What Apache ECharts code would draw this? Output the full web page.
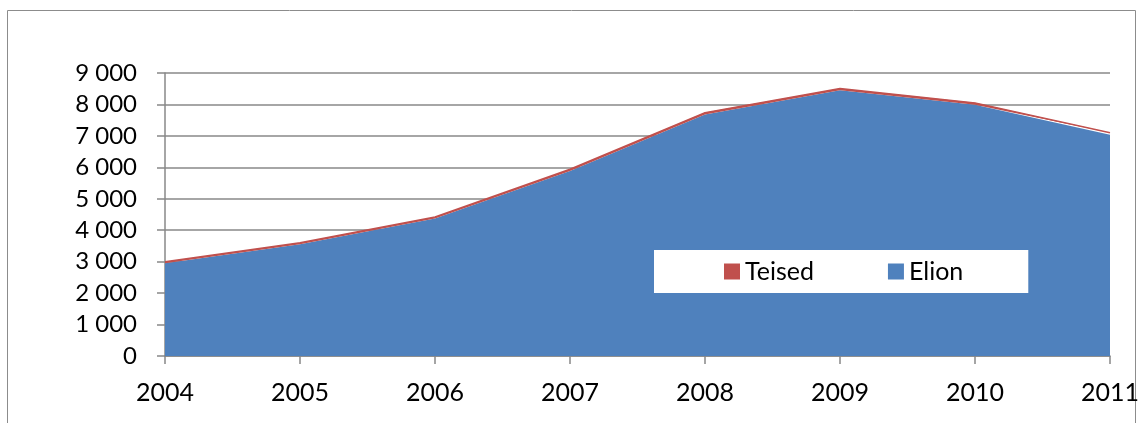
<!DOCTYPE html>
<html>
<head>
<meta charset="utf-8">
<script src="https://cdn.jsdelivr.net/npm/echarts@6/dist/echarts.min.js"></script>
<style>
  html, body { margin: 0; padding: 0; background: #fff; }
  #chart { width: 1144px; height: 423px; }
</style>
</head>
<body>
<div id="chart"></div>
<script>
  // aastad
  const years = ['2004', '2005', '2006', '2007', '2008', '2009', '2010', '2011']
  // Elion (alumine kiht)
  const elion = [2950, 3550, 4370, 5880, 7680, 8450, 7990, 7040]
  // Teised (peal)
  const teised = [50, 50, 50, 60, 60, 60, 60, 60]

  const fontFamily = 'Lato, "Open Sans", sans-serif'
  const gridColor = '#888888'

  const chart = echarts.init(document.getElementById('chart'))

  // tuhandete eraldaja tühikuga
  const fmt = v => String(v).replace(/\B(?=(\d{3})+(?!\d))/g, ' ')

  chart.setOption({
    animation: false,
    graphic: [{
      type: 'rect',
      shape: { x: 7.5, y: 10.5, width: 1128, height: 430 },
      style: { fill: 'none', stroke: '#8c8c8c', lineWidth: 1 },
      z: -1
    }],
    grid: { left: 165, right: 34, top: 73, bottom: 67 },
    legend: {
      data: ['Teised', 'Elion'],
      left: 654,
      top: 250,
      backgroundColor: '#fff',
      padding: [9, 65, 9, 70],
      itemGap: 74,
      itemWidth: 16,
      itemHeight: 16,
      icon: 'rect',
      textStyle: { fontFamily, fontSize: 25, color: '#000' }
    },
    xAxis: {
      type: 'category',
      data: years,
      boundaryGap: false,
      axisLine: { lineStyle: { color: gridColor, width: 1.5 } },
      axisTick: { alignWithLabel: true, length: 8, lineStyle: { color: gridColor, width: 1.5 } },
      axisLabel: { fontFamily, fontSize: 25, color: '#000', margin: 24 }
    },
    yAxis: {
      type: 'value',
      min: 0,
      max: 9000,
      interval: 1000,
      axisLine: { show: true, lineStyle: { color: gridColor, width: 1.5 } },
      axisTick: { show: true, length: 8, lineStyle: { color: gridColor, width: 1.5 } },
      splitLine: { lineStyle: { color: gridColor, width: 1.5 } },
      axisLabel: { fontFamily, fontSize: 24, color: '#000', margin: 28, formatter: fmt }
    },
    series: [
      {
        name: 'Elion',
        type: 'line',
        stack: 'kokku',
        data: elion,
        symbol: 'none',
        lineStyle: { width: 0 },
        itemStyle: { color: '#4F81BD' },
        areaStyle: { color: '#4F81BD', opacity: 1 }
      },
      {
        name: 'Teised',
        type: 'line',
        stack: 'kokku',
        data: teised,
        symbol: 'none',
        lineStyle: { width: 1.5, color: '#C0504D' },
        itemStyle: { color: '#C0504D' },
        areaStyle: { color: '#C0504D', opacity: 1 }
      }
    ]
  })
</script>
</body>
</html>
